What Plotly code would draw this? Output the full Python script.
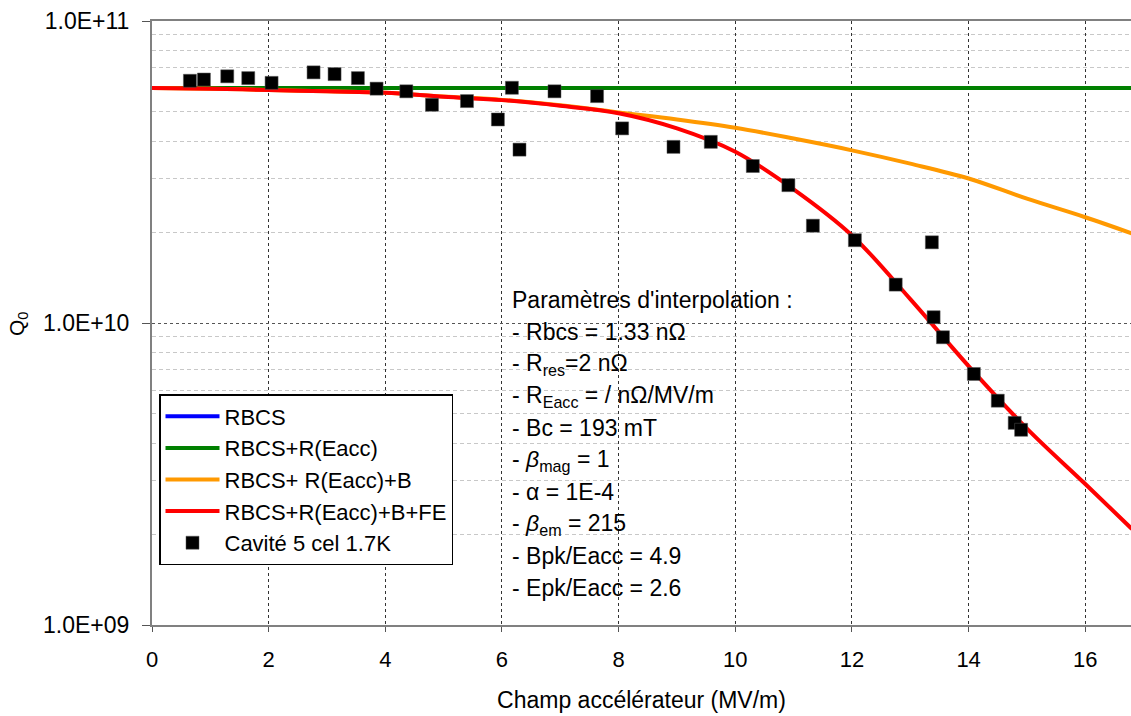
import plotly.graph_objects as go

# Field values (MV/m) for the fitted curves
curve_x = [0, 1, 2, 3, 4, 5, 6, 7, 8, 9, 10, 11, 12, 13, 14, 15, 16, 16.8]

# Fitted Q0 curves
q_rbcs = [6.0e10] * len(curve_x)
q_rbcs_reacc = [6.0e10] * len(curve_x)
q_rbcs_reacc_b = [6.0e10, 5.97e10, 5.91e10, 5.85e10, 5.79e10, 5.62e10, 5.48e10, 5.26e10,
                  4.98e10, 4.72e10, 4.43e10, 4.08e10, 3.73e10, 3.37e10, 3.01e10, 2.58e10,
                  2.24e10, 1.98e10]
q_rbcs_reacc_b_fe = [6.0e10, 5.97e10, 5.91e10, 5.85e10, 5.79e10, 5.61e10, 5.47e10, 5.24e10,
                     4.95e10, 4.41e10, 3.69e10, 2.77e10, 1.95e10, 1.2e10, 7.2e9, 4.47e9,
                     2.93e9, 2.08e9]

# Measured cavity (5 cells, 1.7 K)
meas_eacc = [0.65, 0.89, 1.29, 1.65, 2.05, 2.77, 3.13, 3.53, 3.85, 4.36, 4.80, 5.40, 5.93,
             6.17, 6.30, 6.90, 7.63, 8.06, 8.94, 9.58, 10.30, 10.91, 11.33, 12.05, 12.75,
             13.37, 13.40, 13.56, 14.09, 14.50, 14.79, 14.90]
meas_q0 = [6.34e10, 6.40e10, 6.56e10, 6.47e10, 6.24e10, 6.76e10, 6.67e10, 6.47e10, 5.97e10,
           5.85e10, 5.28e10, 5.43e10, 4.72e10, 6.01e10, 3.75e10, 5.85e10, 5.64e10, 4.41e10,
           3.83e10, 3.98e10, 3.31e10, 2.86e10, 2.10e10, 1.88e10, 1.34e10, 1.85e10, 1.045e10,
           8.97e9, 6.78e9, 5.53e9, 4.67e9, 4.43e9]

param_lines = [
    "Paramètres d'interpolation :",
    "- Rbcs = 1.33 nΩ",
    "- R<sub>res</sub>=2 nΩ",
    "- R<sub>Eacc</sub> = / nΩ/MV/m",
    "- Bc = 193 mT",
    "- <i>β</i><sub>mag</sub> = 1",
    "- α = 1E-4",
    "- <i>β</i><sub>em</sub> = 215",
    "- Bpk/Eacc = 4.9",
    "- Epk/Eacc = 2.6",
]

y_ticks = [1e9, 1e10, 1e11]
y_ticktext = ["1.0E+09", "1.0E+10", "1.0E+11"]
y_minor = [m * 10 ** e for e in (9, 10) for m in range(2, 10)]

FONT = "Liberation Sans, Arial, sans-serif"

W, H = 1131, 716
# plot area in window pixels
PX0, PX1, PY0, PY1 = 152, 1131, 21, 625


def paper_x(px):
    return (px - PX0) / (PX1 - PX0)


def paper_y(py):
    return (PY1 - py) / (PY1 - PY0)


fig = go.Figure()

fig.add_trace(go.Scatter(x=curve_x, y=q_rbcs, name="RBCS", mode="lines",
                         line=dict(color="#0000FF", width=4)))
fig.add_trace(go.Scatter(x=curve_x, y=q_rbcs_reacc, name="RBCS+R(Eacc)", mode="lines",
                         line=dict(color="#008000", width=4)))
fig.add_trace(go.Scatter(x=curve_x, y=q_rbcs_reacc_b, name="RBCS+ R(Eacc)+B", mode="lines",
                         line=dict(color="#FF9900", width=4, shape="spline")))
fig.add_trace(go.Scatter(x=curve_x, y=q_rbcs_reacc_b_fe, name="RBCS+R(Eacc)+B+FE", mode="lines",
                         line=dict(color="#FF0000", width=4, shape="spline")))
fig.add_trace(go.Scatter(x=meas_eacc, y=meas_q0, name="Cavité 5 cel 1.7K", mode="markers",
                         marker=dict(symbol="square", size=13, color="black",
                                     line=dict(color="#555555", width=0.5))))

for i, txt in enumerate(param_lines):
    fig.add_annotation(x=paper_x(510), xref="paper", y=paper_y(300 + 32 * i), yref="paper",
                       text=txt, showarrow=False, xanchor="left", yanchor="middle",
                       font=dict(family=FONT, size=23, color="black"))

# y axis title
fig.add_annotation(x=paper_x(18), xref="paper", y=paper_y(324), yref="paper",
                   text="Q<sub>0</sub>", textangle=-90, showarrow=False,
                   xanchor="center", yanchor="middle",
                   font=dict(family=FONT, size=21, color="black"))

fig.update_layout(
    width=W, height=H,
    margin=dict(l=PX0, r=W - PX1, t=PY0, b=H - PY1),
    paper_bgcolor="white",
    plot_bgcolor="white",
    font=dict(family=FONT, size=23, color="black"),
    showlegend=True,
    legend=dict(x=paper_x(159), y=paper_y(394), xanchor="left", yanchor="top",
                bgcolor="white", bordercolor="black", borderwidth=1.5,
                font=dict(family=FONT, size=22, color="black"), itemwidth=54),
)

fig.update_xaxes(
    range=[0, (PX1 - PX0) / 58.33],
    dtick=2, tick0=0,
    showgrid=True, gridcolor="#333333", griddash="3px,3px", gridwidth=1,
    zeroline=False,
    showline=True, linecolor="#808080", linewidth=2, mirror=True,
    ticks="outside", ticklen=5, tickcolor="#555555",
    tickfont=dict(family=FONT, size=22),
    ticklabelstandoff=9,
    title=dict(text="Champ accélérateur (MV/m)", font=dict(family=FONT, size=23), standoff=20),
)

fig.update_yaxes(
    type="log", range=[9, 11],
    tickvals=y_ticks, ticktext=y_ticktext,
    showgrid=True, gridcolor="#555555", griddash="3px,3px", gridwidth=1,
    minor=dict(tickvals=y_minor, showgrid=True, gridcolor="#c8c8c8",
               griddash="4px,3px", gridwidth=1),
    showline=True, linecolor="#808080", linewidth=2,
    ticks="outside", ticklen=8, tickcolor="#555555",
    tickfont=dict(family=FONT, size=23),
    ticklabelstandoff=8,
    ticklabeloverflow="allow",
)

# drop the default 8px page margin so the figure fills the window exactly
fig.write_html("out.html", config={"displayModeBar": False},
               post_script="document.body.style.margin='0px';")
